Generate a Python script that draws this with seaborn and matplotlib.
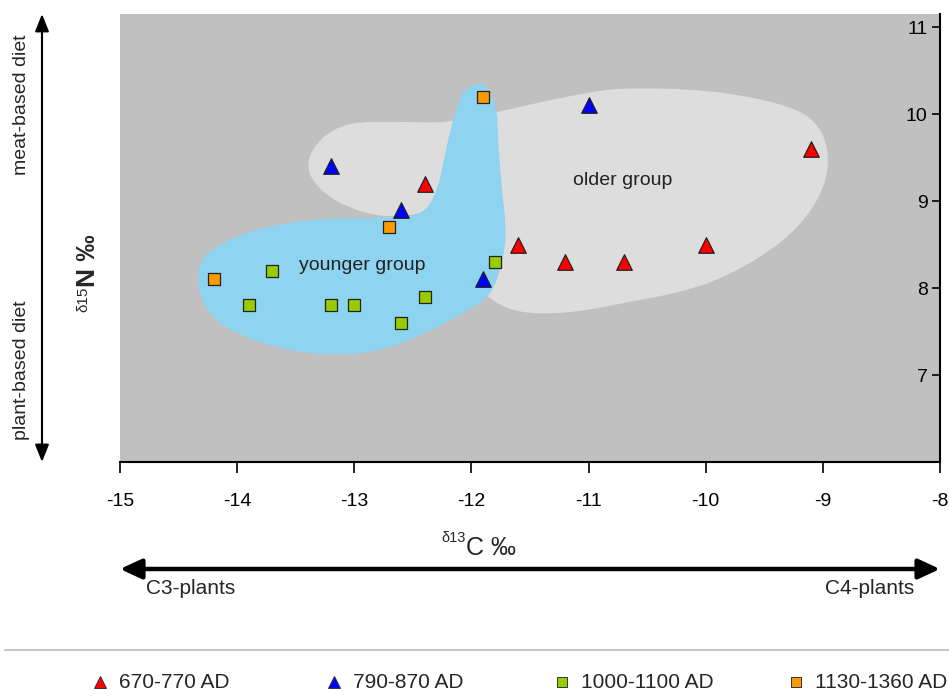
import numpy as np
import pandas as pd
import matplotlib
matplotlib.use("Agg")
import matplotlib.pyplot as plt
import seaborn as sns
from matplotlib import font_manager
from matplotlib.lines import Line2D
from matplotlib.patches import Polygon

# --- data -------------------------------------------------------------
periods = ["670-770 AD", "790-870 AD", "1000-1100 AD", "1130-1360 AD"]
colors = ["#FF0000", "#0000FF", "#99CC00", "#FF9900"]
markers = ["^", "^", "s", "s"]

c13_670 = [-12.4, -11.6, -11.2, -10.7, -10.0, -9.1]
n15_670 = [9.2, 8.5, 8.3, 8.3, 8.5, 9.6]
c13_790 = [-13.2, -12.6, -11.9, -11.0]
n15_790 = [9.4, 8.9, 8.1, 10.1]
c13_1000 = [-13.9, -13.7, -13.2, -13.0, -12.6, -12.4, -11.8]
n15_1000 = [7.8, 8.2, 7.8, 7.8, 7.6, 7.9, 8.3]
c13_1130 = [-14.2, -12.7, -11.9]
n15_1130 = [8.1, 8.7, 10.2]

# outlines of the two hand-drawn groups (data units)
older_x = [-13.01, -12.61, -12.18, -11.76, -11.33, -10.99, -10.73, -9.94, -9.22, -9.00,
           -8.94, -9.02, -9.22, -9.51, -9.88, -10.22, -10.65, -11.07, -11.41, -11.65,
           -11.82, -12.01, -12.23, -12.33, -12.44, -12.67, -12.89, -13.15, -13.29, -13.40,
           -13.38, -13.23]
older_y = [9.91, 9.91, 9.90, 10.03, 10.16, 10.25, 10.30, 10.28, 10.08, 9.82,
           9.44, 9.05, 8.68, 8.37, 8.10, 7.95, 7.84, 7.73, 7.70, 7.74,
           7.85, 8.10, 8.79, 8.94, 8.85, 8.82, 8.85, 8.99, 9.13, 9.33,
           9.56, 9.79]
younger_x = [-11.95, -11.88, -11.82, -11.78, -11.77, -11.74, -11.71, -11.71, -11.76, -11.84,
             -12.01, -12.35, -12.78, -13.21, -13.63, -14.06, -14.26, -14.34, -14.32, -14.12,
             -13.78, -13.35, -12.78, -12.50, -12.38, -12.29, -12.24, -12.18, -12.12, -12.07]
younger_y = [10.35, 10.34, 10.20, 10.02, 9.63, 9.13, 8.79, 8.48, 8.18, 7.91,
             7.76, 7.50, 7.27, 7.22, 7.30, 7.50, 7.73, 8.02, 8.33, 8.53,
             8.70, 8.79, 8.81, 8.82, 8.90, 9.13, 9.44, 9.82, 10.08, 10.28]

xticks = [-15, -14, -13, -12, -11, -10, -9, -8]
yticks = [7, 8, 9, 10, 11]

df = pd.DataFrame({
    "c13": c13_670 + c13_790 + c13_1000 + c13_1130,
    "n15": n15_670 + n15_790 + n15_1000 + n15_1130,
    "period": ([periods[0]] * len(c13_670) + [periods[1]] * len(c13_790)
               + [periods[2]] * len(c13_1000) + [periods[3]] * len(c13_1130)),
})


def chaikin(xs, ys, n=3):
    pts = np.column_stack([xs, ys])
    for _ in range(n):
        nxt = np.roll(pts, -1, axis=0)
        q = 0.75 * pts + 0.25 * nxt
        r = 0.25 * pts + 0.75 * nxt
        pts = np.empty((2 * len(q), 2))
        pts[0::2] = q
        pts[1::2] = r
    return pts


# --- style ------------------------------------------------------------
sns.set_style("white")
plt.rcParams["font.family"] = ["Liberation Sans", "DejaVu Sans"]
names = {f.name for f in font_manager.fontManager.ttflist}
narrow = "Liberation Sans Narrow" if "Liberation Sans Narrow" in names else "Liberation Sans"
narrow_fam = [narrow, "DejaVu Sans"]

fig = plt.figure(figsize=(9.49, 6.97), dpi=100)
ax = fig.add_axes([120 / 949, 1 - 462 / 697, 820 / 949, 448 / 697])
ax.set_facecolor("#C0C0C0")

ax.add_patch(Polygon(chaikin(older_x, older_y), closed=True, fc="#DDDDDD", ec="none", zorder=1))
ax.add_patch(Polygon(chaikin(younger_x, younger_y), closed=True, fc="#8ED3F0", ec="none", zorder=2))

ax.text(-12.93, 8.26, "younger group", fontsize=14, color="#222222", ha="center", va="center", zorder=3)
ax.text(-10.71, 9.24, "older group", fontsize=14, color="#222222", ha="center", va="center", zorder=3)

for per, col, mk in zip(periods, colors, markers):
    sub = df[df["period"] == per]
    sns.scatterplot(data=sub, x="c13", y="n15", color=col, marker=mk,
                    s=125 if mk == "^" else 80, edgecolor="#222222", linewidth=0.9,
                    legend=False, ax=ax, zorder=5)

# move the y axis to the right edge first (this resets the tick objects)
ax.spines["top"].set_visible(False)
ax.spines["right"].set_visible(False)
ax.spines["left"].set_position(("data", -8))

ax.set_xlim(-15, -8)
ax.set_ylim(6.0, 11.15)
ax.set_xticks(xticks)
ax.set_yticks(yticks)
ax.set_xticklabels([str(t) for t in xticks], family=narrow_fam, fontsize=14)
ax.set_yticklabels([str(t) for t in yticks], fontsize=14)
ax.set_xlabel("")
ax.set_ylabel("")

for s in ["left", "bottom"]:
    ax.spines[s].set_color("black")
    ax.spines[s].set_linewidth(1.5)
ax.tick_params(axis="x", direction="out", length=8, width=1.2, pad=14, colors="black", bottom=True)
ax.tick_params(axis="y", direction="out", length=6, width=1.2, pad=3, colors="black", left=True)

# axis titles
fig.text(466 / 949, 1 - 555 / 697, "C ‰", family=narrow_fam, fontsize=18, ha="left", va="baseline")
fig.text(466 / 949, 1 - 542 / 697, "δ13", family=narrow_fam, fontsize=10.5, ha="right", va="baseline")
fig.text(76 / 949, 1 - 287 / 697, "N ‰", fontsize=19, fontweight="bold", rotation=90, ha="left", va="bottom")
fig.text(76 / 949, 1 - 287 / 697, "δ15", fontsize=11, rotation=90, ha="left", va="top")

# diet arrow (left)
ax.annotate("", xy=(42 / 949, 1 - 14 / 697), xytext=(42 / 949, 1 - 462 / 697),
            xycoords="figure fraction", textcoords="figure fraction", annotation_clip=False,
            arrowprops=dict(arrowstyle="<|-|>,head_length=0.7,head_width=0.28", lw=1.5,
                            color="black", mutation_scale=15, shrinkA=0, shrinkB=0))
fig.text(22 / 949, 1 - 105 / 697, "meat-based diet", fontsize=14, rotation=90, ha="center", va="center")
fig.text(22 / 949, 1 - 370 / 697, "plant-based diet", fontsize=14, rotation=90, ha="center", va="center")

# plant arrow (bottom)
ax.annotate("", xy=(120 / 949, 1 - 569 / 697), xytext=(940 / 949, 1 - 569 / 697),
            xycoords="figure fraction", textcoords="figure fraction", annotation_clip=False,
            arrowprops=dict(arrowstyle="<|-|>,head_length=0.65,head_width=0.3", lw=3.2,
                            color="black", mutation_scale=20, shrinkA=0, shrinkB=0))
fig.text(191 / 949, 1 - 588 / 697, "C3-plants", family=narrow_fam, fontsize=15, ha="center", va="center")
fig.text(870 / 949, 1 - 588 / 697, "C4-plants", family=narrow_fam, fontsize=15, ha="center", va="center")

# separator
fig.add_artist(Line2D([5 / 949, 1.0], [1 - 650 / 697] * 2, transform=fig.transFigure,
                      color="#C8C8C8", lw=1.5))

# legend, one fixed-width slot per period
leg_x = [100, 334, 562, 796]
leg_y = 1 - 682 / 697
for xp, per, col, mk in zip(leg_x, periods, colors, markers):
    fig.add_artist(Line2D([xp / 949], [leg_y], transform=fig.transFigure, ls="none",
                          marker=mk, color=col, markeredgecolor="#333333", markeredgewidth=0.7,
                          markersize=8 if mk == "^" else 7))
    fig.text((xp + 19) / 949, leg_y, per, family=narrow_fam, fontsize=15, ha="left", va="center")

fig.savefig("out.png", dpi=100)
